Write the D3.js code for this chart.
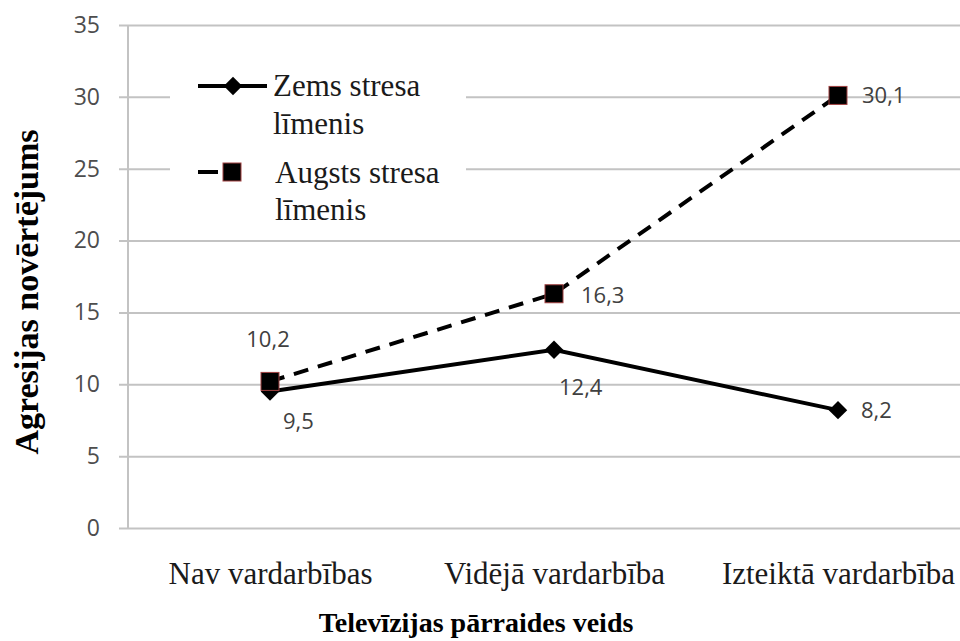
<!DOCTYPE html>
<html>
<head>
<meta charset="utf-8">
<script src="https://cdn.jsdelivr.net/npm/d3@7"></script>
<style>
  body { margin: 0; background: #fff; }
  svg { display: block; }
</style>
</head>
<body>
<svg id="drawing_region"></svg>
<script>
// data
const categories = ['Nav vardarbības', 'Vidējā vardarbība', 'Izteiktā vardarbība'];
const lowStress = [9.5, 12.4, 8.2];
const highStress = [10.2, 16.3, 30.1];
const seriesNames = [['Zems stresa', 'līmenis'], ['Augsts stresa', 'līmenis']];
const yTicks = [0, 5, 10, 15, 20, 25, 30, 35];

const width = 960, height = 641;
const margin = {top: 25, right: -20, bottom: 113, left: 128};

const svg = d3.select('#drawing_region')
    .attr('width', width)
    .attr('height', height);

const inner_width = width - margin.left - margin.right;
const inner_height = height - margin.top - margin.bottom;

const chart = svg.append('g')
    .attr('transform', `translate(${margin.left}, ${margin.top})`);

const xscale = d3.scalePoint()
    .domain(categories)
    .range([0, inner_width])
    .padding(0.5);

const yscale = d3.scaleLinear()
    .domain([0, 35])
    .range([inner_height, 0]);

const serif = '"Liberation Serif", "Times New Roman", serif';
const sans = '"Open Sans", "Noto Sans", sans-serif';
const gridColor = '#c3c3c3';

// y axis with gridlines
const yaxis = d3.axisLeft(yscale)
    .tickValues(yTicks)
    .tickSize(-inner_width)
    .tickPadding(28)
    .tickFormat(d3.format('d'));

const yaxis_group = chart.append('g').call(yaxis);
yaxis_group.select('.domain').remove();
yaxis_group.selectAll('.tick line')
    .attr('x1', -9)
    .attr('stroke', gridColor)
    .attr('stroke-width', 2);
yaxis_group.selectAll('.tick text')
    .style('font-family', sans)
    .style('font-size', '23px')
    .attr('fill', '#4d4d4d');

chart.append('line')
    .attr('x1', 0).attr('x2', 0)
    .attr('y1', 0).attr('y2', inner_height)
    .attr('stroke', gridColor)
    .attr('stroke-width', 2);

// x axis (labels only)
const xaxis = d3.axisBottom(xscale)
    .tickSize(0)
    .tickPadding(34);
const xaxis_group = chart.append('g')
    .attr('transform', `translate(0, ${inner_height})`)
    .call(xaxis);
xaxis_group.select('.domain').remove();
xaxis_group.selectAll('.tick text')
    .style('font-family', serif)
    .style('font-size', '31px')
    .attr('fill', '#1a1a1a');

// axis titles
svg.append('text')
    .style('font-family', serif)
    .style('font-size', '28px')
    .style('font-weight', 'bold')
    .attr('text-anchor', 'middle')
    .attr('x', 476)
    .attr('y', 632)
    .text('Televīzijas pārraides veids');

svg.append('text')
    .style('font-family', serif)
    .style('font-size', '34px')
    .style('font-weight', 'bold')
    .attr('text-anchor', 'middle')
    .attr('transform', 'translate(38, 292) rotate(-90)')
    .text('Agresijas novērtējums');

// legend
const legend = svg.append('g').attr('transform', 'translate(170, 52)');
legend.append('rect')
    .attr('width', 296)
    .attr('height', 183)
    .attr('fill', '#fff');

const lg1 = legend.append('g').attr('transform', 'translate(0, 34)');
lg1.append('line')
    .attr('x1', 28).attr('x2', 97)
    .attr('stroke', '#000').attr('stroke-width', 4);
lg1.append('path')
    .attr('d', d3.symbol(d3.symbolSquare, 170)())
    .attr('transform', 'translate(63, 0) rotate(45)')
    .attr('fill', '#000');
lg1.selectAll('text')
    .data(seriesNames[0])
    .join('text')
    .style('font-family', serif)
    .style('font-size', '31px')
    .attr('fill', '#1a1a1a')
    .attr('x', 103)
    .attr('y', (d, i) => 10 + i * 38)
    .text(d => d);

const lg2 = legend.append('g').attr('transform', 'translate(0, 120)');
lg2.append('line')
    .attr('x1', 28).attr('x2', 84)
    .attr('stroke', '#000').attr('stroke-width', 4)
    .attr('stroke-dasharray', '20 36');
lg2.append('rect')
    .attr('x', 53).attr('y', -9)
    .attr('width', 18).attr('height', 18)
    .attr('fill', '#000')
    .attr('stroke', '#a04040').attr('stroke-width', 1);
lg2.selectAll('text')
    .data(seriesNames[1])
    .join('text')
    .style('font-family', serif)
    .style('font-size', '31px')
    .attr('fill', '#1a1a1a')
    .attr('x', 105)
    .attr('y', (d, i) => 11 + i * 37)
    .text(d => d);

// lines
const line = d3.line()
    .x((d, i) => xscale(categories[i]))
    .y(d => yscale(d));

chart.append('path')
    .datum(highStress)
    .attr('d', line)
    .attr('fill', 'none')
    .attr('stroke', '#000')
    .attr('stroke-width', 4)
    .attr('stroke-dasharray', '15 10');

chart.append('path')
    .datum(lowStress)
    .attr('d', line)
    .attr('fill', 'none')
    .attr('stroke', '#000')
    .attr('stroke-width', 4);

// markers
chart.selectAll('.low-marker')
    .data(lowStress)
    .join('path')
    .attr('class', 'low-marker')
    .attr('d', d3.symbol(d3.symbolSquare, 170)())
    .attr('transform', (d, i) => `translate(${xscale(categories[i])}, ${yscale(d)}) rotate(45)`)
    .attr('fill', '#000');

chart.selectAll('.high-marker')
    .data(highStress)
    .join('rect')
    .attr('class', 'high-marker')
    .attr('x', (d, i) => xscale(categories[i]) - 9)
    .attr('y', d => yscale(d) - 9)
    .attr('width', 18)
    .attr('height', 18)
    .attr('fill', '#000')
    .attr('stroke', '#a04040')
    .attr('stroke-width', 1);

// data labels
const fmt = v => String(v.toFixed(1)).replace('.', ',');
const lowOffsets = [[13, 38], [5, 45], [23, 8]];
const highOffsets = [[-2, -34], [27, 9], [24, 8]];

chart.selectAll('.low-label')
    .data(lowStress)
    .join('text')
    .attr('class', 'low-label')
    .style('font-family', sans)
    .style('font-size', '22px')
    .attr('fill', '#404040')
    .attr('x', (d, i) => xscale(categories[i]) + lowOffsets[i][0])
    .attr('y', (d, i) => yscale(d) + lowOffsets[i][1])
    .text(fmt);

chart.selectAll('.high-label')
    .data(highStress)
    .join('text')
    .attr('class', 'high-label')
    .style('font-family', sans)
    .style('font-size', '22px')
    .attr('fill', '#404040')
    .attr('text-anchor', (d, i) => i === 0 ? 'middle' : 'start')
    .attr('x', (d, i) => xscale(categories[i]) + highOffsets[i][0])
    .attr('y', (d, i) => yscale(d) + highOffsets[i][1])
    .text(fmt);
</script>
</body>
</html>
